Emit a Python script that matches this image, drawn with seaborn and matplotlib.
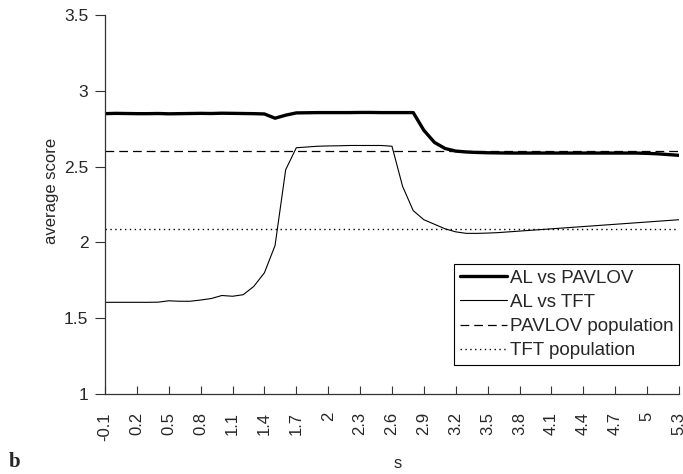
import numpy as np
import pandas as pd
import matplotlib
matplotlib.use("Agg")
import matplotlib.pyplot as plt
import seaborn as sns

# s values, step 0.1 from -0.1 to 5.3
s_values = [round(-0.1 + 0.1 * i, 1) for i in range(55)]

al_vs_pavlov = [
    2.850, 2.852, 2.851, 2.850, 2.850, 2.851, 2.849, 2.850, 2.851, 2.852,
    2.851, 2.853, 2.852, 2.851, 2.850, 2.848, 2.820, 2.840, 2.855, 2.856,
    2.857, 2.857, 2.857, 2.857, 2.858, 2.858, 2.857, 2.857, 2.857, 2.857,
    2.740, 2.660, 2.620, 2.603, 2.597, 2.594, 2.592, 2.591, 2.590, 2.590,
    2.590, 2.590, 2.590, 2.590, 2.590, 2.590, 2.590, 2.590, 2.590, 2.590,
    2.590, 2.588, 2.585, 2.580, 2.575,
]

al_vs_tft = [
    1.605, 1.605, 1.605, 1.605, 1.605, 1.606, 1.615, 1.612, 1.612, 1.620,
    1.630, 1.650, 1.645, 1.655, 1.710, 1.800, 1.980, 2.480, 2.625, 2.630,
    2.635, 2.637, 2.638, 2.640, 2.640, 2.640, 2.640, 2.635, 2.370, 2.210,
    2.150, 2.120, 2.090, 2.070, 2.060, 2.060, 2.062, 2.065, 2.070, 2.075,
    2.080, 2.085, 2.090, 2.095, 2.100, 2.105, 2.110, 2.115, 2.120, 2.125,
    2.130, 2.135, 2.140, 2.145, 2.150,
]

pavlov_population = 2.605
tft_population = 2.092

tick_values = [round(-0.1 + 0.3 * i, 1) for i in range(19)]
tick_labels = ["-0.1", "0.2", "0.5", "0.8", "1.1", "1.4", "1.7", "2", "2.3", "2.6",
               "2.9", "3.2", "3.5", "3.8", "4.1", "4.4", "4.7", "5", "5.3"]

df = pd.DataFrame({
    "s": s_values,
    "AL vs PAVLOV": al_vs_pavlov,
    "AL vs TFT": al_vs_tft,
    "PAVLOV population": [pavlov_population] * len(s_values),
    "TFT population": [tft_population] * len(s_values),
})

sns.set_theme(style="white")
plt.rcParams["font.family"] = ["Liberation Sans", "DejaVu Sans"]

fig = plt.figure(figsize=(6.83, 4.74), dpi=100)
ax = fig.add_axes([0.1537, 0.1688, 0.9941 - 0.1537, 0.968 - 0.1688])

sns.lineplot(data=df, x="s", y="AL vs PAVLOV", ax=ax, color="black", lw=2.4,
             label="AL vs PAVLOV")
sns.lineplot(data=df, x="s", y="AL vs TFT", ax=ax, color="black", lw=0.8,
             label="AL vs TFT")
sns.lineplot(data=df, x="s", y="PAVLOV population", ax=ax, color="black", lw=0.9,
             dashes=(7, 4), label="PAVLOV population")
sns.lineplot(data=df, x="s", y="TFT population", ax=ax, color="black", lw=1.0,
             linestyle=(0, (1, 2.5)), label="TFT population")

ax.set_xlim(-0.1, 5.3)
ax.set_ylim(1, 3.5)
ax.set_xticks(tick_values)
ax.set_xticklabels(tick_labels, rotation=90, fontsize=12)
ax.set_yticks([1, 1.5, 2, 2.5, 3, 3.5])
ax.set_yticklabels(["1", "1.5", "2", "2.5", "3", "3.5"], fontsize=12.5)

for side in ["top", "right"]:
    ax.spines[side].set_visible(False)
for side in ["left", "bottom"]:
    ax.spines[side].set_color("#333333")
    ax.spines[side].set_linewidth(0.9)

ax.tick_params(axis="y", direction="out", length=7, width=0.8, color="#333333",
               left=True, pad=5)
ax.tick_params(axis="x", direction="in", length=6, width=0.8, color="#333333",
               bottom=True, pad=13)

ax.set_xlabel("")
ax.set_ylabel("average score", fontsize=12)
ax.yaxis.set_label_coords(-0.080, 0.535)

fig.text(398 / 683, 1 - 463 / 474, "s", fontsize=12, ha="center", va="center")
fig.text(15 / 683, 1 - 462 / 474, "b", fontsize=15, fontweight="bold",
         family="Liberation Serif", ha="center", va="center")

leg = ax.legend(loc="lower right", bbox_to_anchor=(1.0, 0.0765), fontsize=13.5,
                frameon=True, fancybox=False, framealpha=1, edgecolor="black",
                borderpad=0.3, labelspacing=0.38, handlelength=2.5,
                handletextpad=0.15, borderaxespad=0)
leg.get_frame().set_linewidth(0.8)

fig.savefig("out.png", dpi=100)
